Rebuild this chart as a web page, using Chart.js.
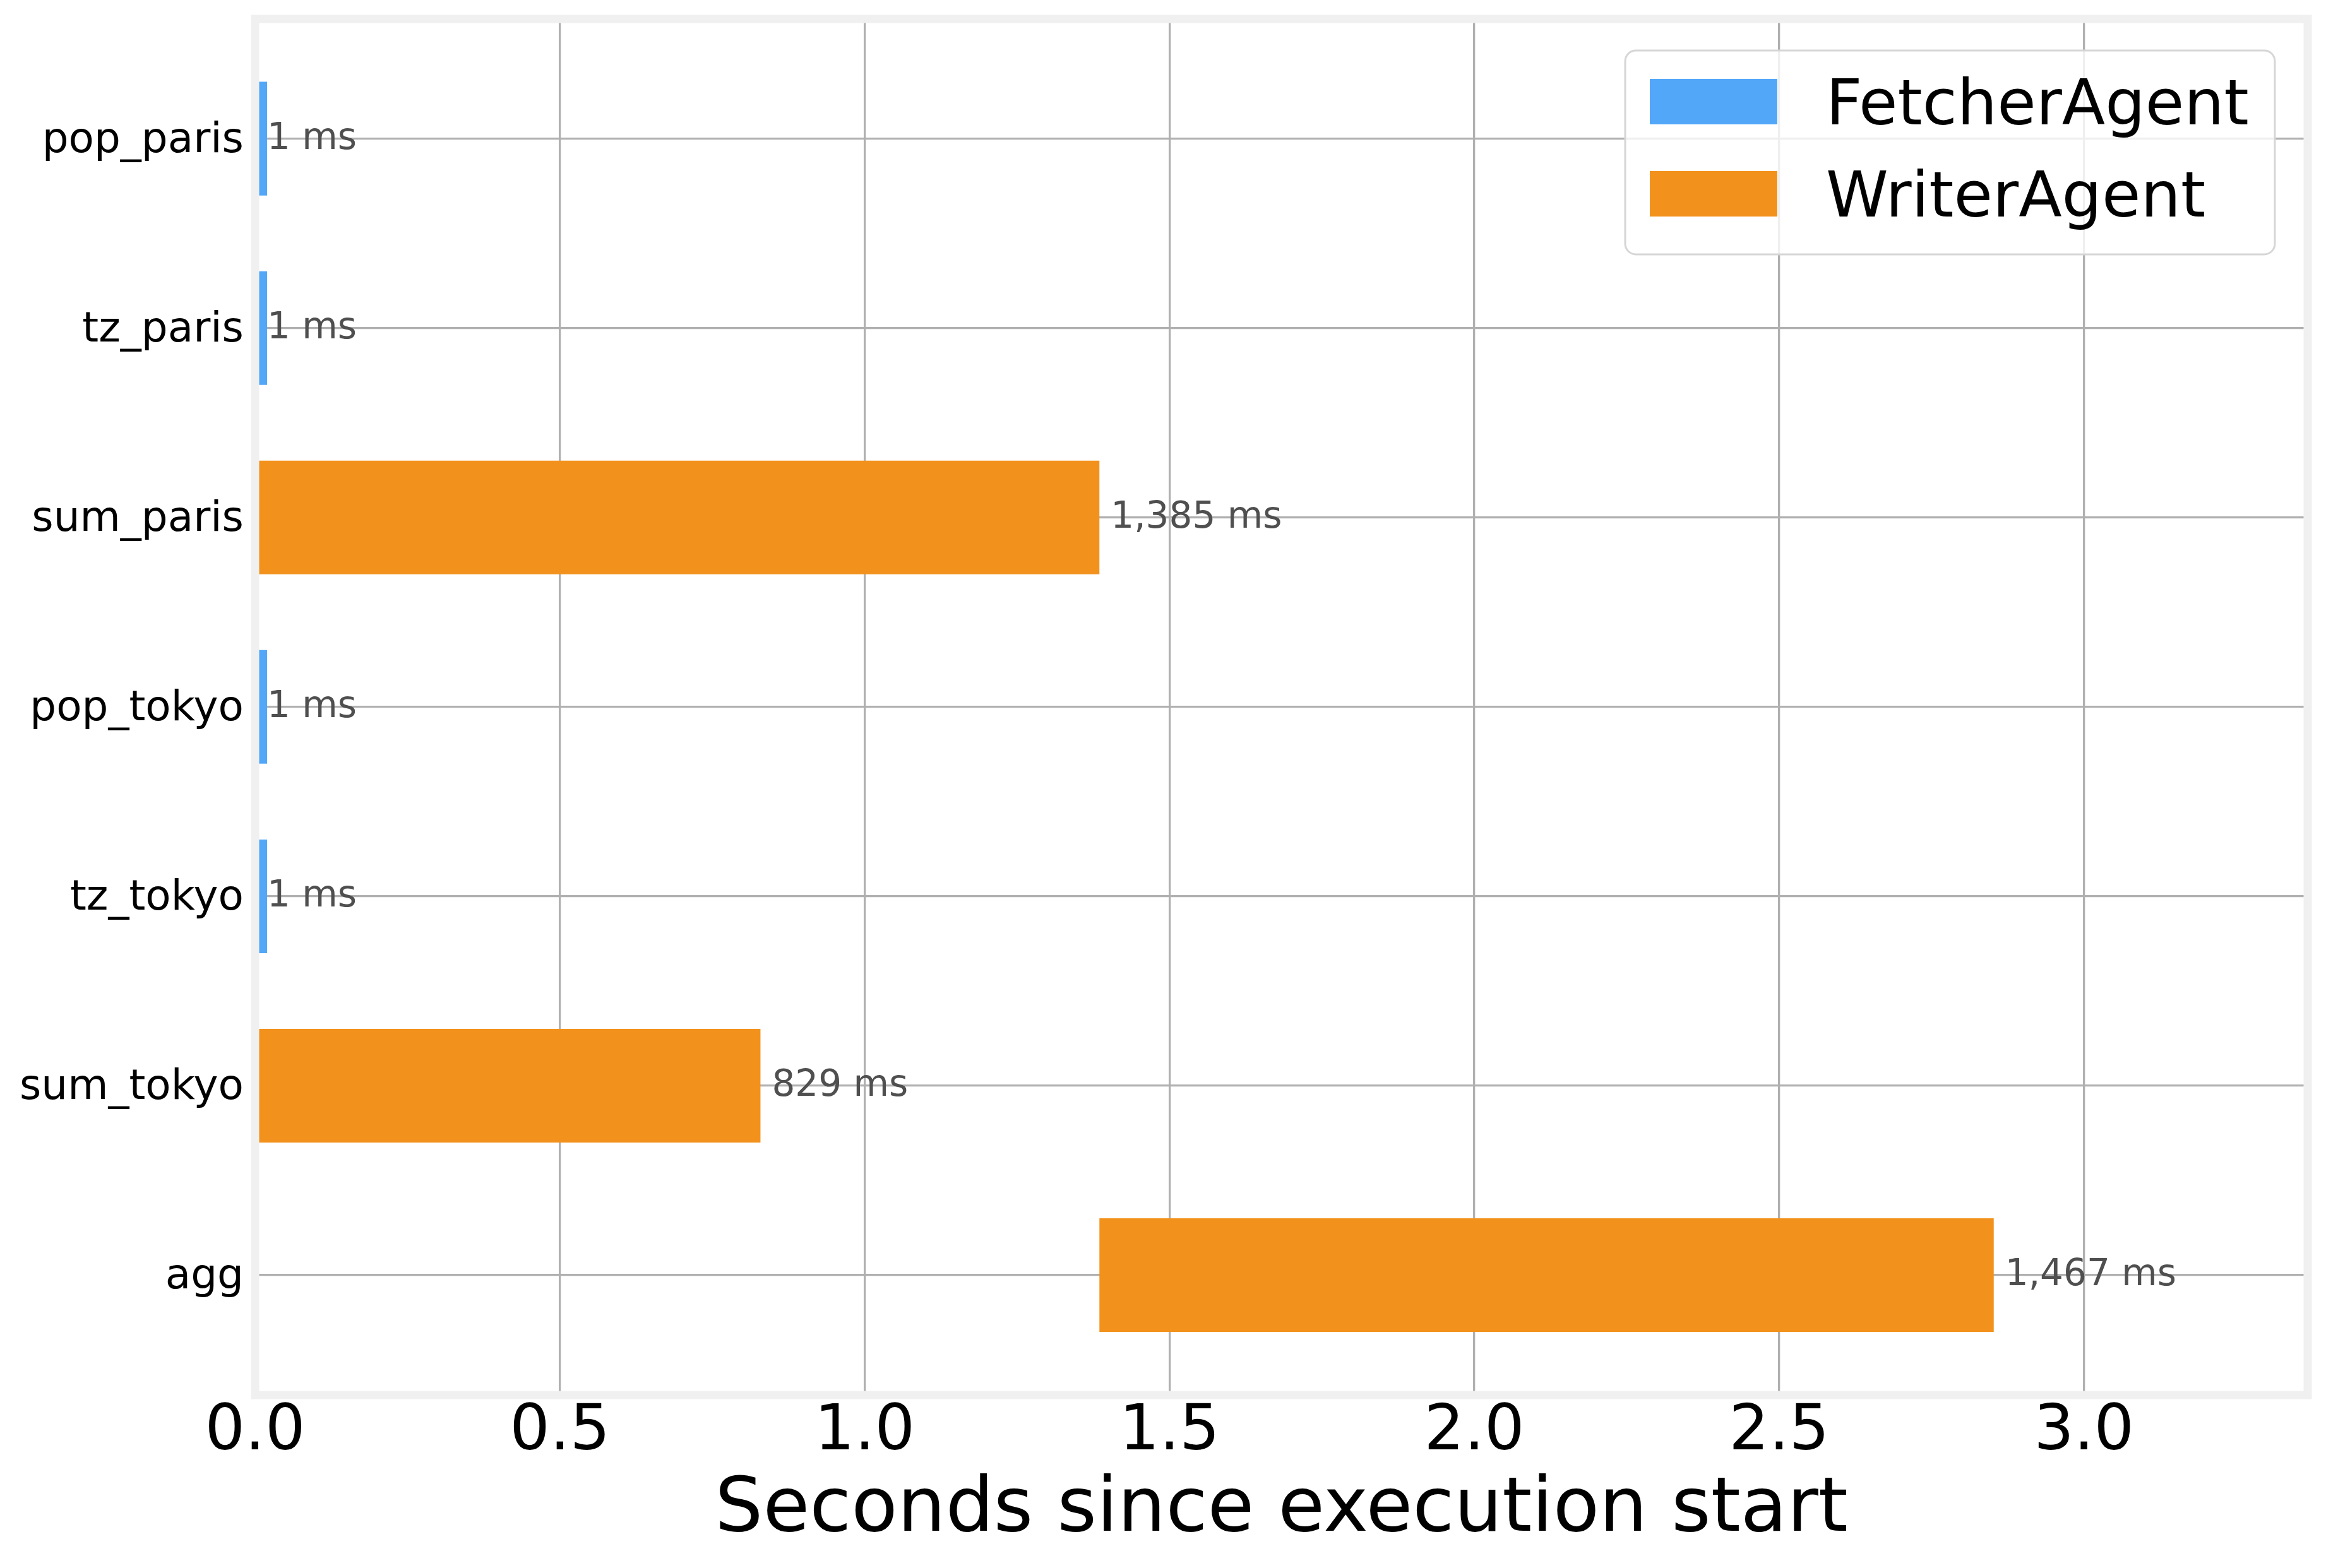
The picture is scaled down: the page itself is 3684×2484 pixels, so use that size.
<!DOCTYPE html>
<html>
<head>
<meta charset="utf-8">
<script src="https://cdn.jsdelivr.net/npm/chart.js@4.4.1/dist/chart.umd.min.js"></script>
<style>
  html, body { margin: 0; padding: 0; background: #fff; }
  #timeline { display: block; }
</style>
</head>
<body>
<canvas id="timeline" width="3684" height="2484" style="width:3684px;height:2484px"></canvas>
<script>
const categories = ['pop_paris', 'tz_paris', 'sum_paris', 'pop_tokyo', 'tz_tokyo', 'sum_tokyo', 'agg'];
const rowAgent = ['FetcherAgent', 'FetcherAgent', 'WriterAgent', 'FetcherAgent', 'FetcherAgent', 'WriterAgent', 'WriterAgent'];
const startSec = [0, 0, 0, 0, 0, 0, 1.385];
const durationMs = [1, 1, 1385, 1, 1, 829, 1467];
const xTicks = [0, 0.5, 1.0, 1.5, 2.0, 2.5, 3.0];
const agentNames = ['FetcherAgent', 'WriterAgent'];
const agentColors = ['#52a7f8', '#f2921d'];

const FONT = '"DejaVu Sans", sans-serif';

const datasets = agentNames.map((name, k) => ({
  label: name,
  backgroundColor: agentColors[k],
  borderWidth: 0,
  minBarLength: 19,
  categoryPercentage: 1,
  barPercentage: 0.6,
  grouped: false,
  data: categories
    .map((c, i) => ({ i, c }))
    .filter(r => rowAgent[r.i] === name)
    .map(r => ({ x: [startSec[r.i], startSec[r.i] + durationMs[r.i] / 1000], y: r.i, ms: durationMs[r.i] }))
}));

// axes frame drawn over the bars, like the light spines of the original
const framePlugin = {
  id: 'frame',
  afterDatasetsDraw(chart) {
    const { ctx, chartArea: a } = chart;
    ctx.save();
    ctx.strokeStyle = '#f0f0f0';
    ctx.lineWidth = 13;
    ctx.strokeRect(a.left, a.top, a.right - a.left, a.bottom - a.top);
    ctx.restore();
  }
};

// "1,385 ms" style labels after the end of each bar
const durationLabels = {
  id: 'durationLabels',
  afterDatasetsDraw(chart) {
    const { ctx } = chart;
    const xs = chart.scales.x, ys = chart.scales.y;
    ctx.save();
    ctx.font = '58px ' + FONT;
    ctx.fillStyle = '#4f4f4f';
    ctx.textAlign = 'left';
    ctx.textBaseline = 'middle';
    chart.data.datasets.forEach(ds => {
      ds.data.forEach(d => {
        const px = xs.getPixelForValue(d.x[1]) + 18;
        const py = ys.getPixelForValue(d.y) + 1;
        ctx.fillText(d.ms.toLocaleString('en-US') + ' ms', px, py);
      });
    });
    ctx.restore();
  }
};

// legend box inside the top-right corner of the plot
const cornerLegend = {
  id: 'cornerLegend',
  afterDraw(chart) {
    const { ctx, chartArea: a } = chart;
    const right = a.right - 52, top = a.top + 50;
    const w = 1029, h = 323, left = right - w;
    ctx.save();
    ctx.beginPath();
    ctx.roundRect(left, top, w, h, 17);
    ctx.fillStyle = 'rgba(255,255,255,0.8)';
    ctx.fill();
    ctx.lineWidth = 3;
    ctx.strokeStyle = '#d6d6d6';
    ctx.stroke();
    ctx.font = '100px ' + FONT;
    ctx.textBaseline = 'alphabetic';
    chart.data.datasets.forEach((ds, k) => {
      const base = top + 117 + k * 146;
      ctx.fillStyle = ds.backgroundColor;
      ctx.fillRect(left + 39, base - 72, 202, 72);
      ctx.fillStyle = '#000';
      ctx.fillText(ds.label, left + 318, base);
    });
    ctx.restore();
  }
};

new Chart(document.getElementById('timeline'), {
  type: 'bar',
  data: { datasets },
  options: {
    indexAxis: 'y',
    responsive: false,
    animation: false,
    devicePixelRatio: 1,
    layout: { padding: { top: 30, right: 29, left: 0, bottom: 0 } },
    plugins: { legend: { display: false }, tooltip: { enabled: false } },
    scales: {
      x: {
        type: 'linear',
        min: 0,
        max: 3.367,
        afterBuildTicks: s => { s.ticks = xTicks.map(v => ({ value: v })); },
        afterFit: s => { s.height = 274; s.paddingLeft = 0; s.paddingRight = 0; },
        ticks: {
          padding: 0,
          color: '#000',
          font: { family: FONT, size: 100 },
          callback: v => v.toFixed(1)
        },
        grid: { color: '#b0b0b0', lineWidth: 3.3, drawTicks: false },
        border: { display: false },
        title: {
          display: true,
          text: 'Seconds since execution start',
          color: '#000',
          font: { family: FONT, size: 120 },
          padding: { top: 0, bottom: 18 }
        }
      },
      y: {
        type: 'linear',
        reverse: true,
        offset: false,
        min: -0.632,
        max: 6.633,
        afterBuildTicks: s => { s.ticks = categories.map((c, i) => ({ value: i })); },
        afterFit: s => { s.width = 404; s.paddingTop = 0; s.paddingBottom = 0; },
        ticks: {
          padding: 18,
          labelOffset: 4,
          color: '#000',
          font: { family: FONT, size: 66 },
          callback: v => categories[v]
        },
        grid: { color: '#b0b0b0', lineWidth: 3.3, drawTicks: false, offset: false },
        border: { display: false }
      }
    }
  },
  plugins: [framePlugin, durationLabels, cornerLegend]
});
</script>
</body>
</html>
